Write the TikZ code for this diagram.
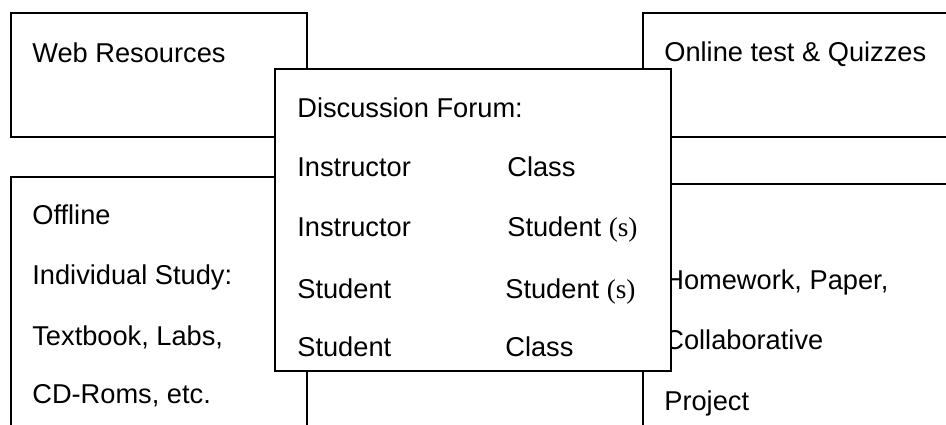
\documentclass[tikz,border=0pt]{standalone}
\usepackage{fontspec}
\setmainfont{Liberation Sans}
\newfontfamily\parenfont{Liberation Serif}
\usetikzlibrary{positioning}

\tikzset{
  panel/.style={draw=black, line width=1.1pt, fill=white},
  lbl/.style={anchor=base west, inner sep=0pt, font=\fontsize{15.5}{18}\selectfont}
}

\begin{document}
\begin{tikzpicture}[x=0.02cm,y=-0.02cm]
   \useasboundingbox (0,0) rectangle (946,425);
   \clip (0,0) rectangle (946,425);
   % outer boxes
   \draw[panel] (11,13) rectangle (307,137);
   \draw[panel] (11,177) rectangle (307,445);
   \draw[panel] (643,13) rectangle (965,137);
   \draw[panel] (643,184) rectangle (965,445);
   \node[lbl] (web) at (32,63) {Web Resources};
   \node[lbl] (quiz) at (664,62) {Online test \& Quizzes};
   \node[lbl] (off1) at (32,225) {Offline};
   \node[lbl] (off2) at (32,285) {Individual Study:};
   \node[lbl] (off3) at (32,345) {Textbook, Labs,};
   \node[lbl] (off4) at (32,403) {CD-Roms, etc.};
   \node[lbl] (hw1) at (664,290) {Homework, Paper,};
   \node[lbl] (hw2) at (664,350) {Collaborative};
   \node[lbl] (hw3) at (664,410) {Project};
   % discussion forum on top
   \draw[panel] (275,69) rectangle (671,371);
   \node[lbl] (forum) at (297,118) {Discussion Forum:};
   \node[lbl] (ia) at (297,177) {Instructor};
   \node[lbl] (ca) at (507,177) {Class};
   \node[lbl] (ib) at (297,237) {Instructor};
   \node[lbl] (sb) at (507,237) {Student {\parenfont (s)}};
   \node[lbl] (sc) at (297,299) {Student};
   \node[lbl] (tc) at (505,299) {Student {\parenfont (s)}};
   \node[lbl] (sd) at (297,357) {Student};
   \node[lbl] (cd) at (505,357) {Class};
\end{tikzpicture}
\end{document}
